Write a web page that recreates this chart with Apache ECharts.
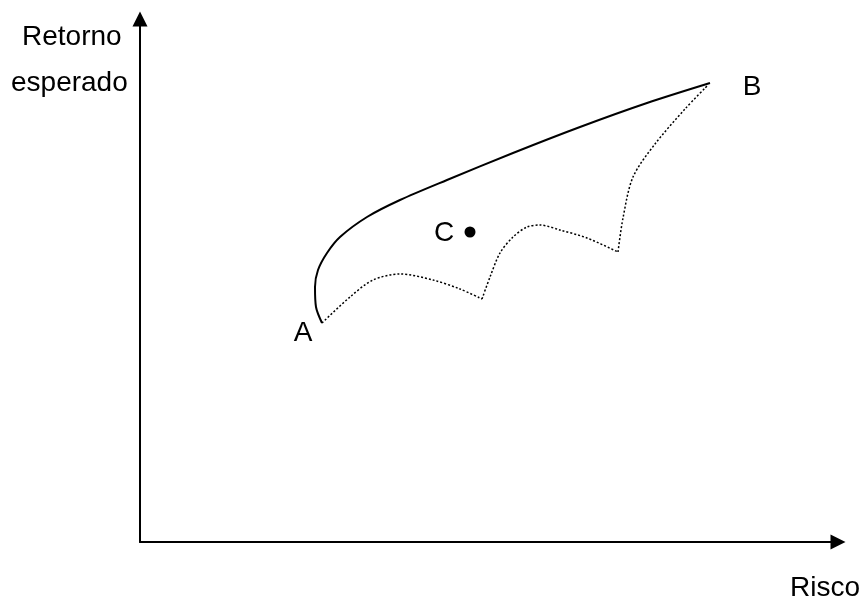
<!DOCTYPE html>
<html>
<head>
<meta charset="utf-8">
<script src="https://cdn.jsdelivr.net/npm/echarts@6/dist/echarts.min.js"></script>
<style>
  html, body { margin: 0; padding: 0; background: #fff; }
  #chart { width: 863px; height: 604px; }
</style>
</head>
<body>
<div id="chart"></div>
<script>
// risco (x) / retorno (y)
const fronteira = [[182, 219], [176, 235], [175, 255], [178, 272], [187, 289], [200, 305], [227, 325], [260, 342], [307, 362], [373, 389], [440, 415], [507, 439], [570, 459]];
const trecho1 = [[182, 219], [210, 245], [233, 262], [260, 268], [293, 262], [320, 253], [342, 243]];
const trecho2 = [[342, 243], [350, 265], [360, 289], [373, 305], [387, 315], [400, 317], [420, 312], [447, 304], [478, 290]];
const trecho3 = [[478, 290], [483, 324], [493, 365], [515, 398], [545, 433], [568, 457]];
const pontoC = [330, 310];
const pontoA = [182, 219];
const pontoB = [570, 459];

const fonte = "'Liberation Sans', Arial, sans-serif";
let chart = echarts.init(document.getElementById('chart'));

function pontilhado (d) {
  return {
    type: 'line',
    data: d,
    smooth: 0.3,
    symbol: 'none',
    silent: true,
    lineStyle: { color: '#000', width: 1.5, type: [2, 2] }
  };
}

function rotulo (nome, dx, dy) {
  return { show: true, formatter: nome, position: 'inside', offset: [dx, dy], color: '#000', fontSize: 28, fontFamily: fonte };
}

let eixo = {
  axisLine: { show: true, lineStyle: { color: '#000', width: 2 }, symbol: ['none', 'triangle'], symbolSize: [15, 15] },
  axisTick: { show: false }, axisLabel: { show: false }, splitLine: { show: false }
};

let option = {
  backgroundColor: '#fff',
  animation: false,
  grid: { left: 140, right: 25, top: 19, bottom: 62 },
  xAxis: Object.assign({ type: 'value', min: 0, max: 698 }, eixo),
  yAxis: Object.assign({ type: 'value', min: 0, max: 523 }, eixo),
  graphic: [
    { type: 'text', x: 22, y: 37, style: { text: 'Retorno', font: '28px ' + fonte, fill: '#000', verticalAlign: 'middle' } },
    { type: 'text', x: 11, y: 83, style: { text: 'esperado', font: '28px ' + fonte, fill: '#000', verticalAlign: 'middle' } },
    { type: 'text', x: 790, y: 588, style: { text: 'Risco', font: '28px ' + fonte, fill: '#000', verticalAlign: 'middle' } }
  ],
  series: [
    {
      type: 'line',
      data: fronteira,
      smooth: 0.3,
      symbol: 'none',
      lineStyle: { color: '#000', width: 2 }
    },
    pontilhado(trecho1),
    pontilhado(trecho2),
    pontilhado(trecho3),
    {
      type: 'scatter',
      symbolSize: 0,
      itemStyle: { opacity: 1 },
      data: [
        { value: pontoA, label: rotulo('A', -19, 10) },
        { value: pontoB, label: rotulo('B', 42, 4) }
      ]
    },
    {
      type: 'scatter',
      data: [{ value: pontoC, label: rotulo('C', -26, 1) }],
      symbolSize: 11,
      itemStyle: { color: '#000', opacity: 1 }
    }
  ]
};
chart.setOption(option);
</script>
</body>
</html>
